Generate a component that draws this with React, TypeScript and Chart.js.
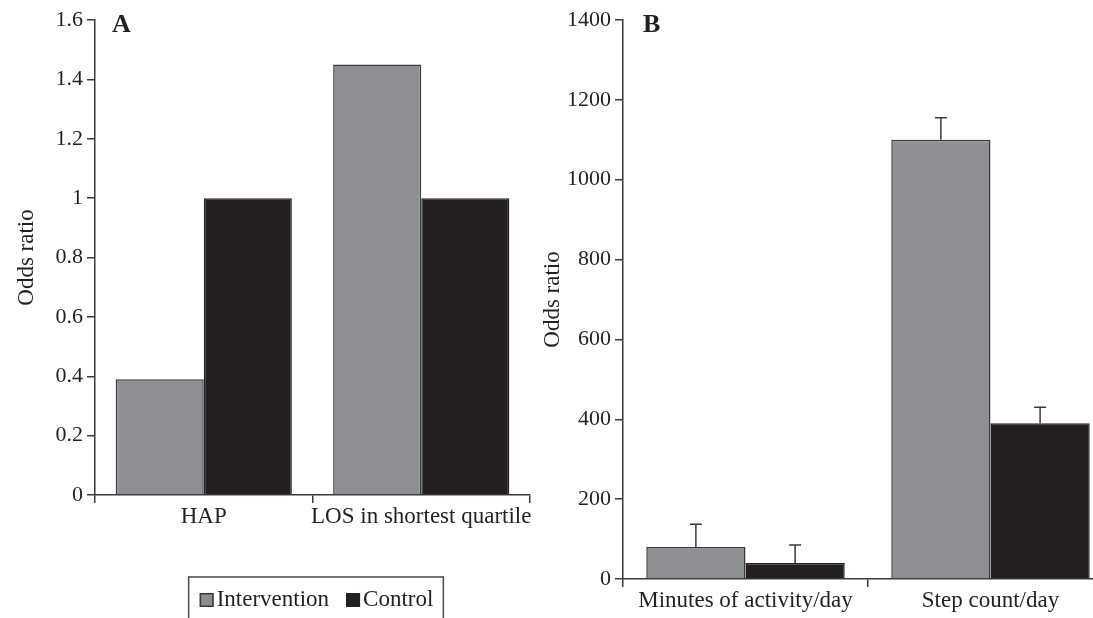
import React, { useEffect, useRef } from 'react';
import { Chart, registerables } from 'chart.js';

Chart.register(...registerables);

// ---- data ----
const seriesNames = ['Intervention', 'Control'];
const yTitle = 'Odds ratio';
const panelLabels = ['A', 'B'];

const categoriesA = ['HAP', 'LOS in shortest quartile'];
const interventionA = [0.39, 1.45];
const controlA = [1.0, 1.0];
const yTicksA = [0, 0.2, 0.4, 0.6, 0.8, 1, 1.2, 1.4, 1.6];

const categoriesB = ['Minutes of activity/day', 'Step count/day'];
const interventionB = [80, 1100];
const interventionErrB = [57, 55];
const controlB = [40, 390];
const controlErrB = [45, 40];
const yTicksB = [0, 200, 400, 600, 800, 1000, 1200, 1400];

// ---- styles ----
const SERIF = '"Liberation Serif", "Times New Roman", serif';
const INK = '#231f20';
const GREY = '#8e8f92';
const AXIS = '#3a3a3a';

const panelLabelPlugin = (text: string, dx: number) => ({
  id: 'panelLabel' + text,
  afterDraw(chart: any) {
    const ctx = chart.ctx;
    ctx.save();
    ctx.font = 'bold 26px ' + SERIF;
    ctx.fillStyle = INK;
    ctx.textBaseline = 'alphabetic';
    ctx.textAlign = 'left';
    ctx.fillText(text, chart.chartArea.left + dx, 32);
    ctx.restore();
  },
});

// legend drawn below panel A, boxed, using the datasets' own labels/colours
const boxedLegendPlugin = {
  id: 'boxedLegend',
  afterDraw(chart: any) {
    const ctx = chart.ctx;
    const sw = 14;
    const gapText = 3;
    const gapItem = 17;
    const cx = 316.5;
    const cy = 600;
    ctx.save();
    ctx.font = '23px ' + SERIF;
    const items = chart.data.datasets.map((ds: any) => ({
      text: ds.label as string,
      fill: ds.backgroundColor as string,
      stroke: ds.borderColor as string,
      w: ctx.measureText(ds.label).width,
    }));
    const total =
      items.reduce((s: number, it: any) => s + sw + gapText + it.w, 0) + gapItem * (items.length - 1);
    let x = cx - total / 2;
    const start = x;
    items.forEach((it: any) => {
      ctx.fillStyle = it.fill;
      ctx.fillRect(x, cy - sw / 2, sw, sw);
      ctx.strokeStyle = it.stroke;
      ctx.lineWidth = 1.5;
      ctx.strokeRect(x + 0.75, cy - sw / 2 + 0.75, sw - 1.5, sw - 1.5);
      x += sw + gapText;
      ctx.fillStyle = INK;
      ctx.textBaseline = 'middle';
      ctx.textAlign = 'left';
      ctx.fillText(it.text, x, cy);
      x += it.w + gapItem;
    });
    const end = x - gapItem;
    ctx.strokeStyle = '#4a4a4a';
    ctx.lineWidth = 1.5;
    ctx.strokeRect(start - 11, cy - 23, end + 10 - (start - 11), 90);
    ctx.restore();
  },
};

const errorBarPlugin = (errs: number[][]) => ({
  id: 'errorBars',
  afterDatasetsDraw(chart: any) {
    const ctx = chart.ctx;
    const ys = chart.scales.y;
    ctx.save();
    ctx.strokeStyle = AXIS;
    ctx.lineWidth = 1.5;
    errs.forEach((list, di) => {
      const meta = chart.getDatasetMeta(di);
      meta.data.forEach((bar: any, i: number) => {
        const v = chart.data.datasets[di].data[i] as number;
        const top = ys.getPixelForValue(v + list[i]);
        ctx.beginPath();
        ctx.moveTo(bar.x, bar.y);
        ctx.lineTo(bar.x, top);
        ctx.moveTo(bar.x - 6, top);
        ctx.lineTo(bar.x + 6, top);
        ctx.stroke();
      });
    });
    ctx.restore();
  },
});

const axisGrid = {
  display: true,
  drawOnChartArea: false,
  drawTicks: true,
  tickLength: 8,
  color: AXIS,
  lineWidth: 1.5,
};
const axisBorder = { display: true, color: AXIS, width: 1.5 };

function datasets(a: number[], b: number[]) {
  return [
    {
      label: seriesNames[0],
      data: a,
      backgroundColor: GREY,
      borderColor: AXIS,
      borderWidth: 1.5,
      categoryPercentage: 0.81,
      barPercentage: 1,
    },
    {
      label: seriesNames[1],
      data: b,
      backgroundColor: INK,
      borderColor: INK,
      borderWidth: 1.5,
      categoryPercentage: 0.81,
      barPercentage: 1,
    },
  ];
}

function makeOptions(opts: {
  ticks: number[];
  max: number;
  yWidth: number;
  xHeight: number;
  titlePad: number;
  padRight: number;
}) {
  return {
    responsive: false,
    animation: false as const,
    layout: { padding: { top: 20, right: opts.padRight, left: 0, bottom: 0 } },
    plugins: {
      legend: { display: false },
      tooltip: { enabled: false },
    },
    scales: {
      x: {
        grid: { ...axisGrid, offset: true },
        border: axisBorder,
        ticks: {
          font: { family: SERIF, size: 23 },
          color: INK,
          padding: 0,
          maxRotation: 0,
          autoSkip: false,
        },
        afterFit: (s: any) => {
          s.height = opts.xHeight;
        },
      },
      y: {
        min: 0,
        max: opts.max,
        afterBuildTicks: (s: any) => {
          s.ticks = opts.ticks.map((v) => ({ value: v }));
        },
        grid: axisGrid,
        border: axisBorder,
        ticks: {
          font: { family: SERIF, size: 22 },
          color: INK,
          padding: 4,
          autoSkip: false,
          callback: (v: any) => String(v),
        },
        title: {
          display: true,
          text: yTitle,
          font: { family: SERIF, size: 23 },
          color: INK,
          padding: { top: opts.titlePad, bottom: 0 },
        },
        afterFit: (s: any) => {
          s.width = opts.yWidth;
        },
      },
    },
  };
}

export default function App() {
  const refA = useRef<HTMLCanvasElement>(null);
  const refB = useRef<HTMLCanvasElement>(null);

  useEffect(() => {
    const chartA = new Chart(refA.current as HTMLCanvasElement, {
      type: 'bar',
      data: { labels: categoriesA, datasets: datasets(interventionA, controlA) as any },
      options: makeOptions({
        ticks: yTicksA,
        max: yTicksA[yTicksA.length - 1],
        yWidth: 95,
        xHeight: 123,
        titlePad: 13,
        padRight: 15,
      }) as any,
      plugins: [panelLabelPlugin(panelLabels[0], 17), boxedLegendPlugin],
    });
    const chartB = new Chart(refB.current as HTMLCanvasElement, {
      type: 'bar',
      data: { labels: categoriesB, datasets: datasets(interventionB, controlB) as any },
      options: makeOptions({
        ticks: yTicksB,
        max: yTicksB[yTicksB.length - 1],
        yWidth: 103,
        xHeight: 39,
        titlePad: 19,
        padRight: 7,
      }) as any,
      plugins: [panelLabelPlugin(panelLabels[1], 20), errorBarPlugin([interventionErrB, controlErrB])],
    });
    return () => {
      chartA.destroy();
      chartB.destroy();
    };
  }, []);

  return (
    <div
      style={{
        position: 'fixed',
        left: 0,
        top: 0,
        width: 1093,
        height: 618,
        overflow: 'hidden',
        background: '#ffffff',
      }}
    >
      <canvas
        ref={refA}
        width={545}
        height={618}
        style={{ position: 'absolute', left: 0, top: 0, width: 545, height: 618 }}
      />
      <canvas
        ref={refB}
        width={600}
        height={618}
        style={{ position: 'absolute', left: 520, top: 0, width: 600, height: 618 }}
      />
    </div>
  );
}
